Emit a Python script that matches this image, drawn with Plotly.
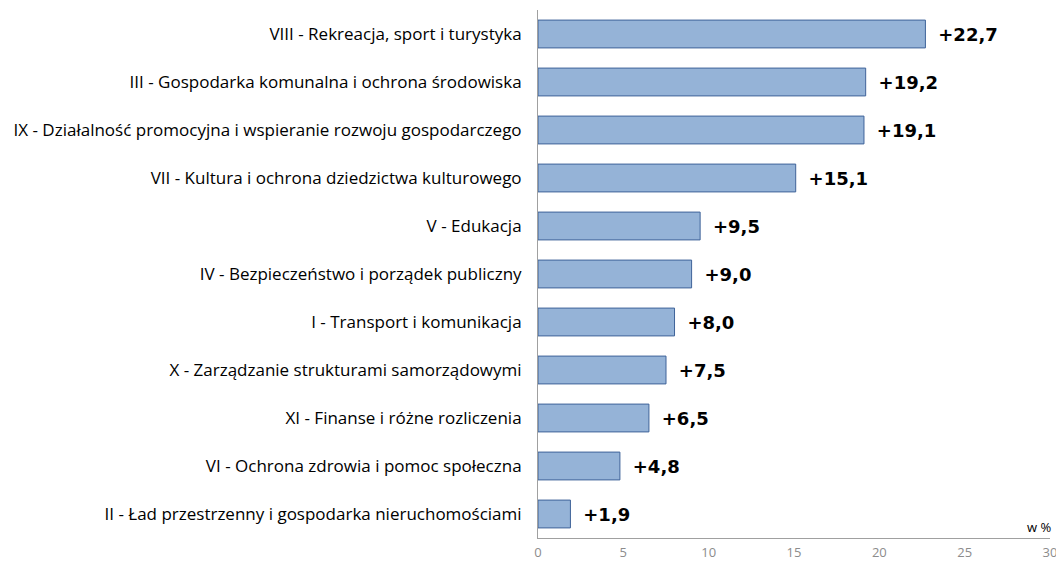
import plotly.graph_objects as go

categories = [
    "VIII - Rekreacja, sport i turystyka",
    "III - Gospodarka komunalna i ochrona środowiska",
    "IX - Działalność promocyjna i wspieranie rozwoju gospodarczego",
    "VII - Kultura i ochrona dziedzictwa kulturowego",
    "V - Edukacja",
    "IV - Bezpieczeństwo i porządek publiczny",
    "I - Transport i komunikacja",
    "X - Zarządzanie strukturami samorządowymi",
    "XI - Finanse i różne rozliczenia",
    "VI - Ochrona zdrowia i pomoc społeczna",
    "II - Ład przestrzenny i gospodarka nieruchomościami",
]
values = [22.7, 19.2, 19.1, 15.1, 9.5, 9.0, 8.0, 7.5, 6.5, 4.8, 1.9]
x_ticks = [0, 5, 10, 15, 20, 25, 30]

labels = ["\u00a0\u2009+" + f"{v:.1f}".replace(".", ",") for v in values]

fig = go.Figure(
    go.Bar(
        x=values,
        y=categories,
        orientation="h",
        marker=dict(color="#95B3D7", line=dict(color="#3F6399", width=1)),
        text=labels,
        textposition="outside",
        textfont=dict(family="DejaVu Sans, sans-serif", size=18, color="#000000", weight="bold"),
        cliponaxis=False,
    )
)

# page body has an 8px default margin, so the figure is sized to compensate
fig.update_layout(
    width=1056,
    height=554,
    margin=dict(l=530, r=14, t=2, b=24),
    paper_bgcolor="white",
    plot_bgcolor="white",
    bargap=0.42,
    showlegend=False,
    font=dict(family="Open Sans, sans-serif", size=17, color="#000000"),
    xaxis=dict(
        range=[0, 30],
        tickvals=x_ticks,
        ticktext=[str(t) for t in x_ticks],
        showgrid=False,
        zeroline=False,
        showline=True,
        linecolor="#A0A0A0",
        linewidth=1,
        ticks="",
        automargin=False,
        ticklabelstandoff=2,
        tickfont=dict(family="Open Sans, sans-serif", size=13, color="#8C8C8C"),
    ),
    yaxis=dict(
        autorange="reversed",
        showgrid=False,
        showline=True,
        linecolor="#A0A0A0",
        linewidth=1,
        ticks="",
        automargin=False,
        ticklabelstandoff=12,
        tickfont=dict(family="Open Sans, sans-serif", size=17, color="#000000"),
    ),
    annotations=[
        dict(
            text="w %",
            xref="paper",
            yref="paper",
            x=1.0,
            y=0.0,
            xanchor="right",
            yanchor="bottom",
            xshift=3,
            yshift=0,
            showarrow=False,
            font=dict(family="Open Sans, sans-serif", size=13, color="#000000"),
        )
    ],
)

fig.write_html("out.html")
